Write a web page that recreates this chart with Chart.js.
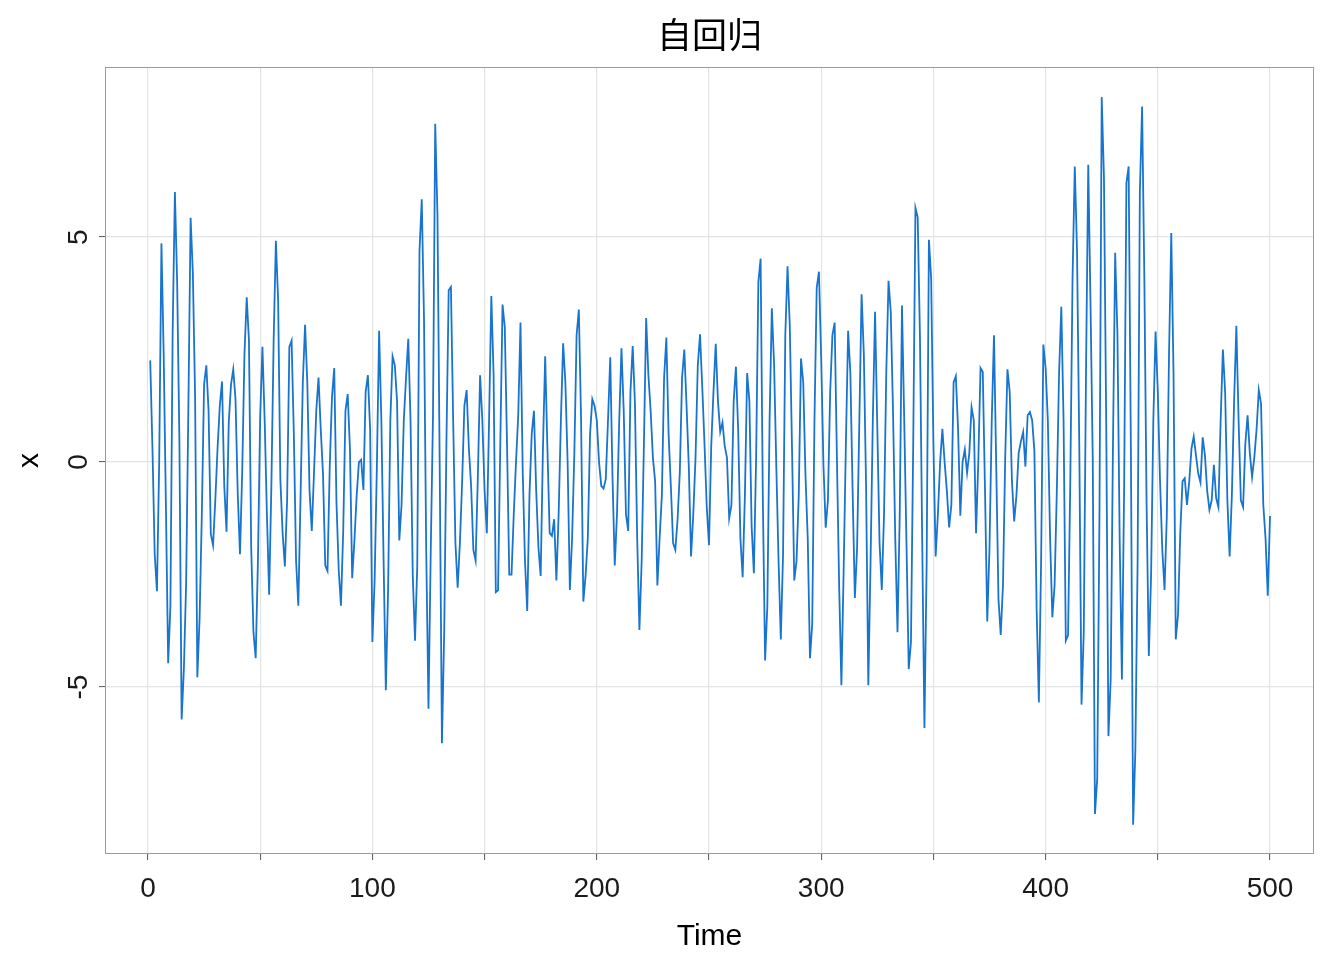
<!DOCTYPE html>
<html>
<head>
<meta charset="utf-8">
<title>自回归</title>
<script src="https://cdn.jsdelivr.net/npm/chart.js@4.4.1/dist/chart.umd.min.js"></script>
<style>
  html, body { margin: 0; padding: 0; background: #ffffff; }
  #wrap { width: 1344px; height: 960px; }
</style>
</head>
<body>
<div id="wrap"><canvas id="chart" width="1344" height="960"></canvas></div>
<script>
// values, Time = 1..500
const series = [
  2.26, 0.3, -2.05, -2.87, 0.0, 4.86, 2.4, -1.0, -4.47, -3.2,
  2.9, 6.0, 4.0, 0.5, -5.72, -4.6, -2.7, 1.2, 5.43, 4.2,
  1.45, -4.78, -3.47, -1.16, 1.72, 2.15, 1.14, -1.6, -1.85, -0.85,
  0.3, 1.25, 1.79, -0.53, -1.55, 0.88, 1.72, 2.06, 1.4, -0.7,
  -2.05, -0.2, 2.4, 3.66, 2.7, -1.9, -3.78, -4.36, -2.2, 1.0,
  2.56, 0.93, -1.16, -2.95, -0.5, 2.7, 4.92, 3.6, -0.4, -1.58,
  -2.32, -0.85, 2.56, 2.7, 0.62, -2.2, -3.19, -0.74, 1.77, 3.05,
  1.77, -0.64, -1.53, -0.22, 1.14, 1.88, 0.72, -0.27, -2.3, -2.42,
  -0.1, 1.45, 2.09, -0.9, -2.4, -3.19, -1.53, 1.14, 1.51, 0.3,
  -2.58, -1.74, -0.74, 0.0, 0.05, -0.62, 1.56, 1.93, 0.72, -4.0,
  -2.63, -0.1, 2.92, 0.93, -2.2, -5.07, -2.84, 0.93, 2.35, 2.15,
  1.35, -1.74, -0.95, 0.93, 1.88, 2.74, 0.93, -2.53, -3.97, -2.3,
  4.7, 5.84, 3.2, -2.0, -5.48, -2.0, 1.0, 7.52, 5.5, -0.1,
  -6.25, -3.8, 0.46, 3.82, 3.89, 0.93, -1.8, -2.79, -1.8, -0.43,
  1.25, 1.6, 0.3, -0.53, -1.95, -2.19, -0.33, 1.93, 0.93, -0.64,
  -1.58, 0.93, 3.69, 1.98, -2.89, -2.85, 0.4, 3.5, 3.0, 0.4,
  -2.5, -2.5, -1.16, 0.0, 1.04, 3.1, -0.22, -2.2, -3.31, -0.74,
  0.62, 1.14, -0.64, -1.9, -2.53, 0.3, 2.35, 0.3, -1.58, -1.64,
  -1.27, -2.63, -1.16, 0.93, 2.64, 1.77, 0.0, -2.84, -1.69, 0.2,
  2.82, 3.39, 0.93, -3.1, -2.53, -1.69, 0.62, 1.4, 1.25, 0.93,
  0.0, -0.53, -0.59, -0.38, 0.93, 2.33, -0.33, -2.3, -1.16, 0.93,
  2.53, 1.14, -1.16, -1.53, 1.56, 2.58, 1.3, -1.69, -3.73, -2.2,
  0.4, 3.2, 1.93, 1.14, 0.1, -0.43, -2.74, -1.69, -0.74, 1.88,
  2.77, 0.62, -0.53, -1.8, -1.95, -1.27, -0.22, 1.88, 2.5, 1.25,
  -0.1, -2.1, -1.16, 0.1, 2.14, 2.84, 1.67, 0.4, -1.0, -1.85,
  0.36, 1.56, 2.63, 1.35, 0.67, 0.88, 0.36, 0.1, -1.25, -0.95,
  1.35, 2.12, 0.72, -1.69, -2.56, -0.74, 1.98, 1.35, -1.43, -2.47,
  0.1, 4.0, 4.52, -0.85, -4.41, -3.2, 0.93, 3.42, 2.19, -0.1,
  -2.2, -3.94, -2.05, 2.82, 4.35, 3.03, 0.3, -2.63, -2.2, -0.74,
  2.3, 1.77, -0.3, -1.69, -4.36, -3.6, 0.93, 3.87, 4.23, 2.3,
  -0.06, -1.46, -0.85, 1.56, 2.82, 3.1, 0.1, -2.74, -4.96, -2.42,
  0.4, 2.92, 1.98, -0.64, -3.02, -1.9, 0.93, 3.73, 2.4, -0.53,
  -4.96, -2.2, 0.93, 3.34, 0.78, -1.8, -2.84, -1.16, 1.98, 4.03,
  3.34, 1.14, -1.69, -3.78, -1.16, 3.48, 0.93, -1.8, -4.6, -4.0,
  0.4, 5.65, 5.44, 2.82, -1.69, -5.91, -2.2, 4.94, 4.08, 0.4,
  -2.1, -1.16, 0.0, 0.74, 0.0, -0.64, -1.45, -0.95, 1.77, 1.91,
  0.72, -1.19, 0.0, 0.28, -0.24, 0.2, 1.22, 0.93, -1.58, 0.0,
  2.09, 2.0, -0.64, -3.54, -1.9, 0.93, 2.82, -0.1, -3.05, -3.84,
  -2.74, 0.1, 2.06, 1.56, -0.43, -1.32, -0.74, 0.2, 0.46, 0.67,
  -0.1, 1.04, 1.11, 0.93, 0.25, -3.26, -5.34, -2.2, 2.61, 2.09,
  0.93, -1.69, -3.45, -2.74, -0.64, 1.98, 3.45, 0.93, -3.97, -3.85,
  -0.43, 4.08, 6.57, 4.7, 0.4, -5.39, -3.78, 1.98, 6.61, 3.55,
  0.1, -7.82, -7.03, -1.16, 8.11, 6.33, 0.93, -6.09, -4.83, 0.3,
  4.65, 2.87, -1.69, -4.83, -0.53, 6.2, 6.57, 0.3, -8.06, -6.4,
  -2.2, 6.0, 7.9, 4.08, -0.95, -4.31, -2.53, 0.93, 2.9, 1.56,
  -0.43, -1.95, -2.84, -1.22, 2.4, 5.09, 1.98, -3.94, -3.4, -1.58,
  -0.43, -0.36, -0.95, -0.43, 0.3, 0.57, 0.15, -0.25, -0.45, 0.55,
  0.15, -0.64, -1.06, -0.85, -0.06, -0.8, -1.0, 0.93, 2.5, 1.56,
  -0.85, -2.1, -0.74, 1.35, 3.03, 0.93, -0.85, -1.0, 0.41, 1.04,
  0.2, -0.33, 0.1, 0.72, 1.6, 1.3, -0.95, -1.69, -2.97, -1.2
]

const xTicks = [0, 50, 100, 150, 200, 250, 300, 350, 400, 450, 500]
const xLabels = ["0", "", "100", "", "200", "", "300", "", "400", "", "500"]
const yTicks = [-5, 0, 5]
const yLabels = ["-5", "0", "5"]
const chartTitle = "自回归"

const points = series.map((v, i) => ({ x: i + 1, y: v }))

const sans = '"Liberation Sans", Arial, sans-serif'

// panel border, title centred over the panel, rotated y labels
const panelFrame = {
  id: "panelFrame",
  afterDraw: (chart) => {
    const { ctx, chartArea: a, scales } = chart
    ctx.save()
    ctx.strokeStyle = "#9a9a9a"
    ctx.lineWidth = 1
    ctx.strokeRect(a.left + 0.5, a.top + 0.5, a.right - a.left - 1, a.bottom - a.top - 1)

    ctx.fillStyle = "#000000"
    ctx.font = '35px "Noto Sans CJK SC", sans-serif'
    ctx.textAlign = "center"
    ctx.textBaseline = "middle"
    ctx.fillText(chartTitle, (a.left + a.right) / 2, 35)

    ctx.fillStyle = "#1a1a1a"
    ctx.font = "28px " + sans
    yTicks.forEach((v, i) => {
      ctx.save()
      ctx.translate(a.left - 26, scales.y.getPixelForValue(v))
      ctx.rotate(-Math.PI / 2)
      ctx.fillText(yLabels[i], 0, 0)
      ctx.restore()
    })
    ctx.restore()
  }
}

new Chart(document.getElementById("chart"), {
  type: "line",
  data: {
    datasets: [{
      data: points,
      borderColor: "#1874cd",
      borderWidth: 1.8,
      pointRadius: 0,
      tension: 0,
      fill: false
    }]
  },
  options: {
    responsive: false,
    animation: false,
    layout: { padding: { left: 0, right: 30, top: 67, bottom: 0 } },
    plugins: {
      legend: { display: false },
      tooltip: { enabled: false },
      title: { display: false }
    },
    scales: {
      x: {
        type: "linear",
        min: -19.15,
        max: 519.6,
        afterBuildTicks: (axis) => { axis.ticks = xTicks.map(v => ({ value: v })) },
        afterFit: (axis) => { axis.height = 106 },
        grid: { color: "#e4e4e4", lineWidth: 1.2, tickLength: 6, tickColor: "#555555", tickWidth: 1 },
        border: { display: false },
        ticks: {
          color: "#1a1a1a",
          font: { family: sans, size: 28 },
          padding: 12,
          maxRotation: 0,
          autoSkip: false,
          callback: (v, i) => xLabels[i]
        },
        title: {
          display: true,
          text: "Time",
          color: "#000000",
          font: { family: sans, size: 30 },
          padding: { top: 0, bottom: 5 }
        }
      },
      y: {
        type: "linear",
        min: -8.71,
        max: 8.78,
        afterBuildTicks: (axis) => { axis.ticks = yTicks.map(v => ({ value: v })) },
        afterFit: (axis) => { axis.width = 105 },
        grid: { color: "#e4e4e4", lineWidth: 1.2, tickLength: 6, tickColor: "#555555", tickWidth: 1 },
        border: { display: false },
        ticks: { display: false },
        title: {
          display: true,
          text: "x",
          color: "#000000",
          font: { family: sans, size: 30 },
          padding: { top: 12, bottom: 0 }
        }
      }
    }
  },
  plugins: [panelFrame]
})
</script>
</body>
</html>
